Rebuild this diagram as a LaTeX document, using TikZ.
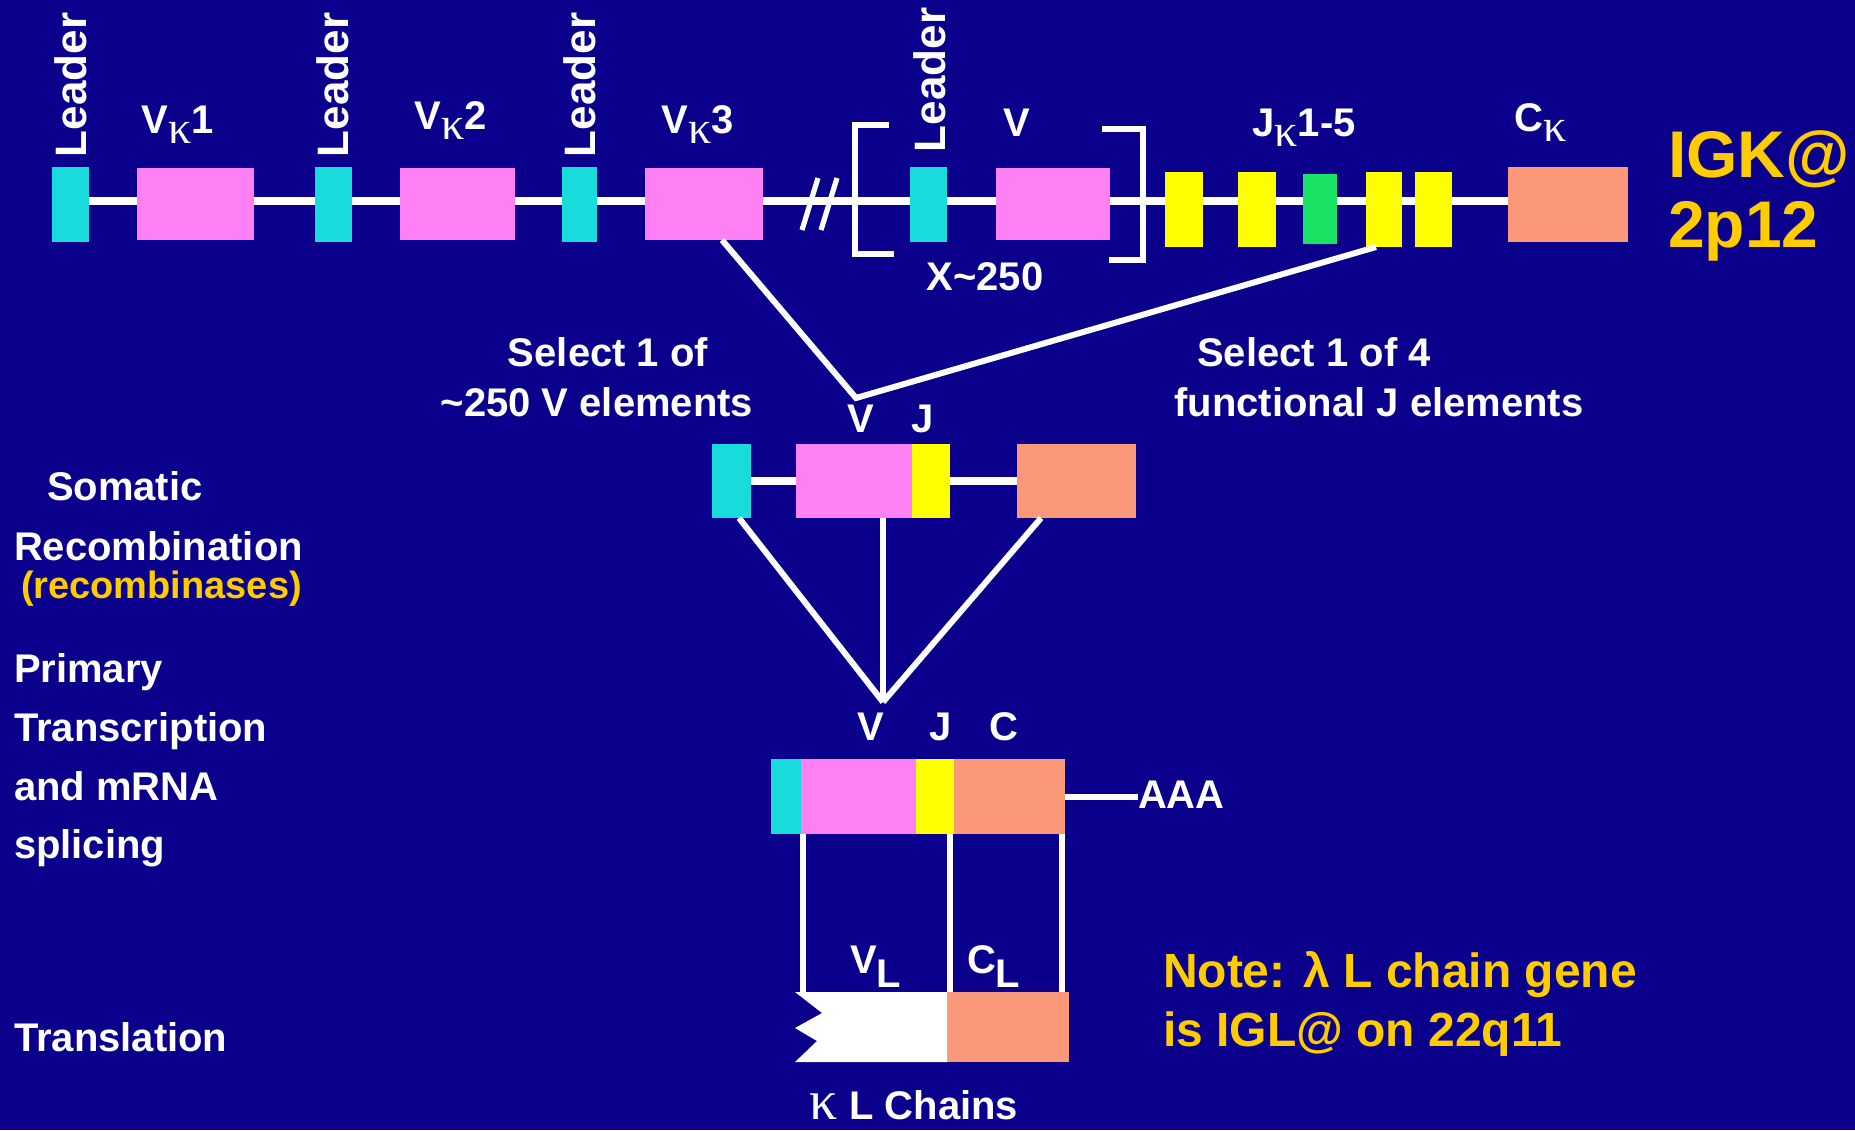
\documentclass[tikz,border=0pt]{standalone}
\usepackage{fontspec}
\setmainfont{Liberation Sans}
\newfontfamily\kfont{Liberation Serif}
\usetikzlibrary{fit}
\definecolor{bg}{RGB}{10,0,140}
\definecolor{cy}{RGB}{24,220,220}
\definecolor{pk}{RGB}{255,128,245}
\definecolor{yl}{RGB}{255,255,0}
\definecolor{gr}{RGB}{25,225,100}
\definecolor{sa}{RGB}{252,152,122}
\definecolor{gd}{RGB}{255,204,0}
\newcommand\kap{\raisebox{-5pt}{\kfont\mdseries\fontsize{23}{23}\selectfont κ}}
\newcommand\gbox[6]{\node[fit={(#2,#3) (#4,#5)}, inner sep=0pt, outer sep=0pt, fill=#6, draw=none] (#1) {};}
\tikzset{
  lbl/.style={text=white, font=\bfseries\fontsize{20}{24}\selectfont, inner sep=0pt, outer sep=0pt},
  lead/.style={lbl, font=\bfseries\fontsize{22}{26}\selectfont, rotate=90, anchor=west},
  gold/.style={text=gd, font=\bfseries\fontsize{24}{29}\selectfont, inner sep=0pt, outer sep=0pt, align=left},
  big/.style={gold, font=\bfseries\fontsize{33}{38}\selectfont},
  yel/.style={gold, font=\bfseries\fontsize{19}{23}\selectfont},
  wl/.style={draw=white, line width=3pt},
  trk/.style={draw=white, line width=4pt},
}
\begin{document}
\begin{tikzpicture}[x=0.5pt, y=-0.5pt]
\useasboundingbox (0,0) rectangle (1855,1130);
\fill[bg] (0,0) rectangle (1855,1130);

% germline track
\coordinate (tL) at (71,201);
\coordinate (tR) at (1568,201);
\draw[trk] (tL) -- (tR);
\gbox{L1}{52}{167}{89}{242}{cy}
\gbox{V1}{137}{168}{254}{240}{pk}
\gbox{L2}{315}{167}{352}{242}{cy}
\gbox{V2}{400}{168}{515}{240}{pk}
\gbox{L3}{562}{167}{597}{242}{cy}
\gbox{V3}{645}{168}{763}{240}{pk}
\gbox{L4}{910}{167}{947}{242}{cy}
\gbox{V4}{996}{168}{1110}{240}{pk}
\gbox{J1}{1165}{172}{1203}{247}{yl}
\gbox{J2}{1238}{172}{1276}{247}{yl}
\gbox{J3}{1303}{174}{1337}{244}{gr}
\gbox{J4}{1366}{172}{1402}{247}{yl}
\gbox{J5}{1415}{172}{1452}{247}{yl}
\gbox{CK}{1508}{167}{1628}{242}{sa}

% break mark and brackets
\draw[white, line width=2.6pt] (818,178) -- (802,230);
\draw[white, line width=2.6pt] (837,178) -- (821,230);
\draw[wl, line width=3pt] (889,125) -- (855,125) -- (855,254) -- (894,254);
\draw[wl, line width=3pt] (1102,129) -- (1143,129) -- (1143,260) -- (1109,260);

% top labels
\node[lead] (tl1) at (71,157) {Leader};
\node[lead] (tl2) at (333,157) {Leader};
\node[lead] (tl3) at (580,157) {Leader};
\node[lead] (tl4) at (930,152) {Leader};
\node[lbl, anchor=base] (tv1) at (178,133) {V\kap1};
\node[lbl, anchor=base] (tv2) at (451,129) {V\kap2};
\node[lbl, anchor=base] (tv3) at (698,133) {V\kap3};
\node[lbl, anchor=base] (tv4) at (1017,136) {V};
\node[lbl, anchor=base] (tj) at (1304,136) {J\kap1-5};
\node[lbl, anchor=base] (tc) at (1541,131) {C\kap};
\node[lbl, anchor=base] (tx) at (985,290) {X\textasciitilde250};
\node[big, anchor=base west] (igk) at (1668,177) {IGK@};
\node[big, anchor=base west] (chr) at (1668,247) {2p12};

% selection lines
\coordinate (vx1) at (856,398);
\draw[wl] (722,0 |- V3.south) -- (vx1) -- (1376,0 |- J4.south);
\node[lbl, anchor=base] (s1a) at (608,366) {Select 1 of};
\node[lbl, anchor=base] (s1b) at (597,416) {\textasciitilde250 V elements};
\node[lbl, anchor=base] (s2a) at (1314,366) {Select 1 of 4};
\node[lbl, anchor=base] (s2b) at (1379,416) {functional J elements};
\node[lbl, anchor=base] (mvl) at (861,432) {V};
\node[lbl, anchor=base] (mjl) at (923,432) {J};

% recombined DNA
\coordinate (mL) at (730,481);
\coordinate (mR) at (1076,481);
\draw[trk] (mL) -- (mR);
\gbox{mC}{712}{444}{751}{518}{cy}
\gbox{mV}{796}{444}{912}{518}{pk}
\gbox{mJ}{912}{444}{950}{518}{yl}
\gbox{mK}{1017}{444}{1136}{518}{sa}

\coordinate (vx2) at (883,702);
\draw[wl] (739,0 |- mC.south) -- (vx2);
\draw[wl] (883,0 |- mV.south) -- (vx2);
\draw[wl] (1041,0 |- mK.south) -- (vx2);

% mRNA
\node[lbl, anchor=base] (rvl) at (871,740) {V};
\node[lbl, anchor=base] (rjl) at (941,740) {J};
\node[lbl, anchor=base] (rcl) at (1004,740) {C};
\gbox{rC}{771}{759}{801}{834}{cy}
\gbox{rV}{801}{759}{916}{834}{pk}
\gbox{rJ}{916}{759}{954}{834}{yl}
\gbox{rK}{954}{759}{1065}{834}{sa}
\node[lbl, anchor=base west] (aaa) at (1138,808) {AAA};
\draw[wl] (rK.east) -- (aaa.west |- rK.east);

% protein
\gbox{pC}{947}{992}{1069}{1062}{sa}
\fill[white] (795,992) -- (947,992) -- (947,1062) -- (795,1062) -- (817,1041)
   -- (795,1028) -- (822,1013) -- cycle;
\coordinate (pV) at (803,992);
\coordinate (pJ) at (950,992);
\coordinate (pK) at (1062,992);
\draw[wl] (803,0 |- rV.south) -- (pV);
\draw[wl] (950,0 |- rK.south) -- (pJ);
\draw[wl] (1062,0 |- rK.south) -- (pK);
\node[lbl, anchor=base] (vl) at (876,973) {V\kern-0.5pt\raisebox{-7pt}{L}};
\node[lbl, anchor=base] (cl) at (994,973) {C\kern-0.5pt\raisebox{-7pt}{L}};
\node[lbl, anchor=base] (kl) at (914,1119) {{\kfont\mdseries\fontsize{28}{28}\selectfont κ} L Chains};

% left-hand labels
\node[lbl, anchor=base west] (t1) at (47,500) {Somatic};
\node[lbl, anchor=base west] (t2) at (14,560) {Recombination};
\node[yel, anchor=base west] (t3) at (21,598) {(recombinases)};
\node[lbl, anchor=base west] (t4) at (14,682) {Primary};
\node[lbl, anchor=base west] (t5) at (14,741) {Transcription};
\node[lbl, anchor=base west] (t6) at (14,800) {and mRNA};
\node[lbl, anchor=base west] (t7) at (14,858) {splicing};
\node[lbl, anchor=base west] (t8) at (14,1051) {Translation};

% note
\node[gold, anchor=base west] (n1) at (1163,987) {Note: λ L chain gene};
\node[gold, anchor=base west] (n2) at (1163,1046) {is IGL@ on 22q11};
\end{tikzpicture}
\end{document}
